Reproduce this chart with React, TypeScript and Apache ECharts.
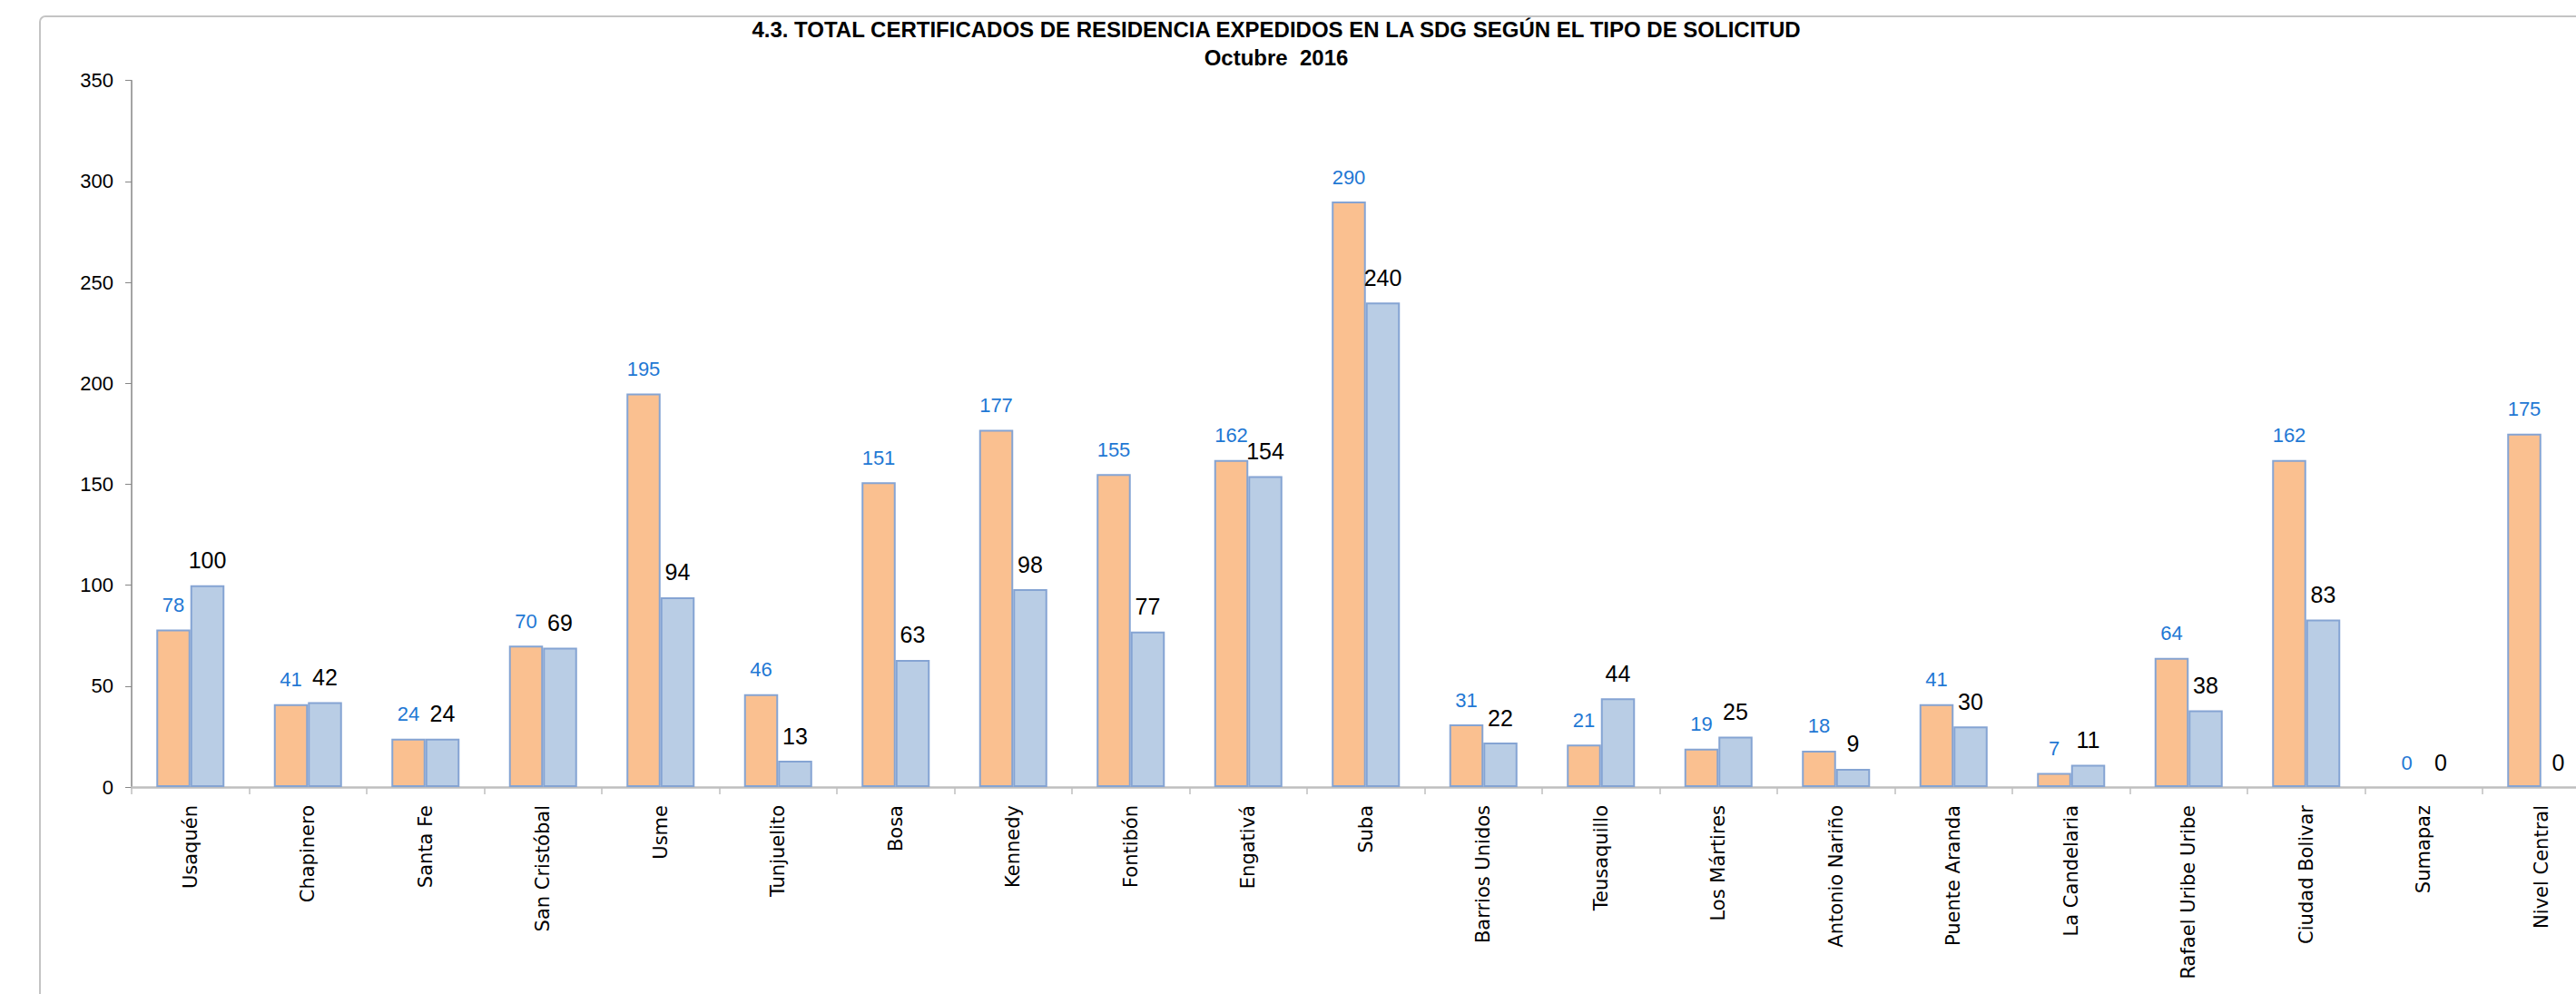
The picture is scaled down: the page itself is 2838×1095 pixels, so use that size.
import React, { useEffect, useRef } from "react";
import * as echarts from "echarts";

const titleLine1 = "4.3. TOTAL CERTIFICADOS DE RESIDENCIA EXPEDIDOS EN LA SDG SEGÚN EL TIPO DE SOLICITUD";
const titleLine2 = "Octubre  2016";

const categories = [
  "Usaquén", "Chapinero", "Santa Fe", "San Cristóbal", "Usme", "Tunjuelito", "Bosa",
  "Kennedy", "Fontibón", "Engativá", "Suba", "Barrios Unidos", "Teusaquillo", "Los Mártires",
  "Antonio Nariño", "Puente Aranda", "La Candelaria", "Rafael Uribe Uribe", "Ciudad Bolivar",
  "Sumapaz", "Nivel Central",
];

const seriesA = [78, 41, 24, 70, 195, 46, 151, 177, 155, 162, 290, 31, 21, 19, 18, 41, 7, 64, 162, 0, 175];
const seriesB = [100, 42, 24, 69, 94, 13, 63, 98, 77, 154, 240, 22, 44, 25, 9, 30, 11, 38, 83, 0, 0];

const yMin = 0;
const yMax = 350;
const yStep = 50;

const withBorder = (vals: number[]) =>
  vals.map((v) => ({ value: v, itemStyle: { borderWidth: v === 0 ? 0 : 2 } }));

export default function App() {
  const ref = useRef<HTMLDivElement>(null);

  useEffect(() => {
    if (!ref.current) return;
    const chart = echarts.init(ref.current, undefined, { renderer: "svg" });
    const valueFont = "'Liberation Sans', Arial, sans-serif";
    chart.setOption({
      animation: false,
      backgroundColor: "#ffffff",
      title: {
        text: titleLine1 + "\n" + titleLine2,
        left: 1401,
        top: 12,
        textAlign: "center",
        textStyle: {
          fontFamily: valueFont,
          fontWeight: "bold",
          fontSize: 24,
          lineHeight: 31,
          color: "#000000",
        },
      },
      graphic: [
        {
          type: "rect",
          z: -10,
          shape: { x: 44, y: 18, width: 3200, height: 2000, r: 6 },
          style: { fill: "none", stroke: "#c4c4c4", lineWidth: 2 },
        },
      ],
      grid: {
        left: 145,
        top: 88.7,
        width: 2719.5,
        height: 778.3,
        containLabel: false,
      },
      xAxis: {
        type: "category",
        data: categories,
        axisLine: { show: true, lineStyle: { color: "#bfbfbf", width: 2.5 } },
        axisTick: { show: true, alignWithLabel: false, length: 8, lineStyle: { color: "#bfbfbf", width: 1.5 } },
        axisLabel: {
          interval: 0,
          rotate: 90,
          margin: 20,
          fontFamily: "'DejaVu Sans', Verdana, sans-serif",
          fontSize: 21,
          color: "#000000",
        },
      },
      yAxis: {
        type: "value",
        min: yMin,
        max: yMax,
        interval: yStep,
        axisLine: { show: true, lineStyle: { color: "#868686", width: 1.5 } },
        axisTick: { show: true, length: 7, lineStyle: { color: "#868686" } },
        splitLine: { show: false },
        axisLabel: {
          margin: 20,
          fontFamily: valueFont,
          fontSize: 22,
          color: "#000000",
        },
      },
      series: [
        {
          type: "bar",
          data: withBorder(seriesA),
          barWidth: 37.5,
          barGap: "0%",
          itemStyle: { color: "#FAC090", borderColor: "#85A4D3", borderWidth: 2 },
          label: {
            show: true,
            position: "top",
            distance: 16,
            fontFamily: valueFont,
            fontSize: 22,
            color: "#1F78D4",
          },
        },
        {
          type: "bar",
          data: withBorder(seriesB),
          barWidth: 37.5,
          barGap: "0%",
          itemStyle: { color: "#B9CDE5", borderColor: "#85A4D3", borderWidth: 2 },
          label: {
            show: true,
            position: "top",
            distance: 15,
            fontFamily: valueFont,
            fontSize: 25,
            color: "#000000",
          },
        },
      ],
    });
    return () => chart.dispose();
  }, []);

  return (
    <div style={{ position: "fixed", left: 0, top: 0, width: 2838, height: 1095, overflow: "hidden", background: "#fff" }}>
      <div ref={ref} style={{ width: 2900, height: 1095 }} />
    </div>
  );
}
